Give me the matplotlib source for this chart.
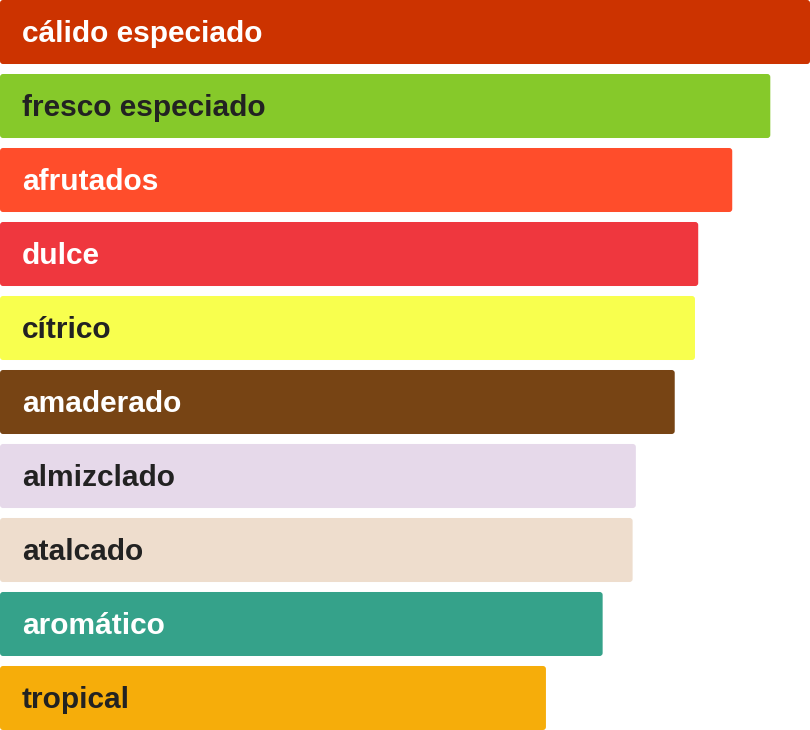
import matplotlib.pyplot as plt
from matplotlib.patches import FancyBboxPatch

# notas olfativas, de mayor a menor
labels = ['cálido especiado', 'fresco especiado', 'afrutados', 'dulce', 'cítrico',
          'amaderado', 'almizclado', 'atalcado', 'aromático', 'tropical']
values = [100, 95.1, 90.4, 86.2, 85.8, 83.3, 78.5, 78.1, 74.4, 67.4]
colors = ['#cc3300', '#86c92a', '#ff4d2b', '#ef373e', '#f8ff4e',
          '#774414', '#e6d9ea', '#eeddcd', '#35a28a', '#f6ad0a']
text_colors = ['white', '#222222', 'white', 'white', '#222222',
               'white', '#222222', '#222222', 'white', '#222222']

W, H = 810, 730
fig = plt.figure(figsize=(W / 100, H / 100), dpi=100)
ax = fig.add_axes([0, 0, 1, 1])

bar_h = 0.865
n = len(values)
xmax = max(values)
ax.set_xlim(0, xmax)
ax.set_ylim(n - 1 + bar_h / 2, -bar_h / 2)
ax.axis('off')

xu = xmax / W                     # x units per pixel
yu = (n - 1 + bar_h) / H          # y units per pixel
radius = 3 * xu

for i, (lab, v, c, tc) in enumerate(zip(labels, values, colors, text_colors)):
    box = FancyBboxPatch((0, i - bar_h / 2), v, bar_h,
                         boxstyle=f'round,pad=0,rounding_size={radius}',
                         mutation_aspect=yu / xu,
                         facecolor=c, edgecolor='none')
    ax.add_patch(box)
    ax.text(22 * xu, i + 2 * yu, lab, color=tc, fontsize=21.5, fontweight='bold',
            family=['Liberation Sans', 'DejaVu Sans'], va='center', ha='left')

fig.savefig('out.png', dpi=100)
